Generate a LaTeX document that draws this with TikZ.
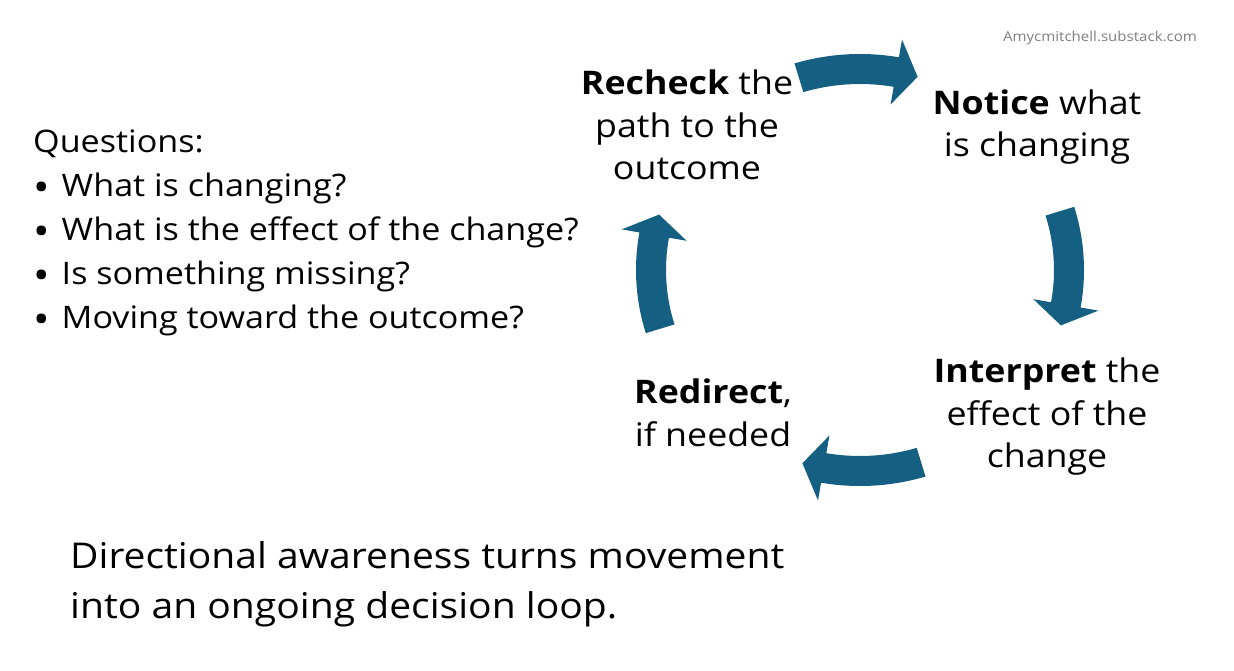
\documentclass[tikz,border=0pt]{standalone}
\usepackage{fontspec}
\setmainfont[FakeStretch=1.1]{Open Sans}
\usepackage{xcolor}
\usepackage{tikz}
\definecolor{loopblue}{HTML}{156082}
\definecolor{creditgray}{HTML}{7F7F7F}

\begin{document}
\begin{tikzpicture}[x=1pt,y=1pt,inner sep=0pt,
  looparrow/.style={fill=loopblue},
  steptext/.style={align=center,font=\fontsize{32.5}{42.5}\selectfont},
  listtext/.style={align=left,anchor=west,font=\fontsize{31}{44}\selectfont}]
\useasboundingbox (0,0) rectangle (1234,670);
%% loop arrows
\begin{scope}[shift={(860,400)}]
\fill[looparrow] (107:224 and 216) arc[start angle=107,end angle=80,x radius=224,y radius=216]
  -- (80:242 and 234) -- (74:209 and 201) -- (80:176 and 168) -- (80:194 and 186)
  arc[start angle=80,end angle=107,x radius=194,y radius=186] -- cycle;
\fill[looparrow] (17:224 and 216) arc[start angle=17,end angle=-10,x radius=224,y radius=216]
  -- (-10:242 and 234) -- (-16:209 and 201) -- (-10:176 and 168) -- (-10:194 and 186)
  arc[start angle=-10,end angle=17,x radius=194,y radius=186] -- cycle;
\fill[looparrow] (-73:224 and 216) arc[start angle=-73,end angle=-100,x radius=224,y radius=216]
  -- (-100:242 and 234) -- (-106:209 and 201) -- (-100:176 and 168) -- (-100:194 and 186)
  arc[start angle=-100,end angle=-73,x radius=194,y radius=186] -- cycle;
\fill[looparrow] (197:224 and 216) arc[start angle=197,end angle=170,x radius=224,y radius=216]
  -- (170:242 and 234) -- (164:209 and 201) -- (170:176 and 168) -- (170:194 and 186)
  arc[start angle=170,end angle=197,x radius=194,y radius=186] -- cycle;
\end{scope}
%% steps
\node[steptext] (recheck) at (687,545) {\textbf{Recheck} the\\path to the\\outcome};
\node[steptext] (notice) at (1037,543) {\textbf{Notice} what\\is changing};
\node[steptext] (interpret) at (1047,253) {\textbf{Interpret} the\\effect of the\\change};
\node[steptext] (redirect) at (713,257) {\textbf{Redirect},\\if needed};
%% questions
\node[listtext] (questions) at (33,437) {Questions:\\
  \raisebox{-5pt}{\fontsize{40}{40}\selectfont\textbullet}\hspace{12pt}What is changing?\\
  \raisebox{-5pt}{\fontsize{40}{40}\selectfont\textbullet}\hspace{12pt}What is the effect of the change?\\
  \raisebox{-5pt}{\fontsize{40}{40}\selectfont\textbullet}\hspace{12pt}Is something missing?\\
  \raisebox{-5pt}{\fontsize{40}{40}\selectfont\textbullet}\hspace{12pt}Moving toward the outcome?};
%%
\node[align=left,anchor=west,font=\fontsize{35.5}{50}\selectfont] (summary) at (70,86)
  {Directional awareness turns movement\\into an ongoing decision loop.};
\node[text=creditgray,font=\fontsize{13.7}{18}\selectfont] (credit) at (1100,632) {Amycmitchell.substack.com};
\end{tikzpicture}
\end{document}
